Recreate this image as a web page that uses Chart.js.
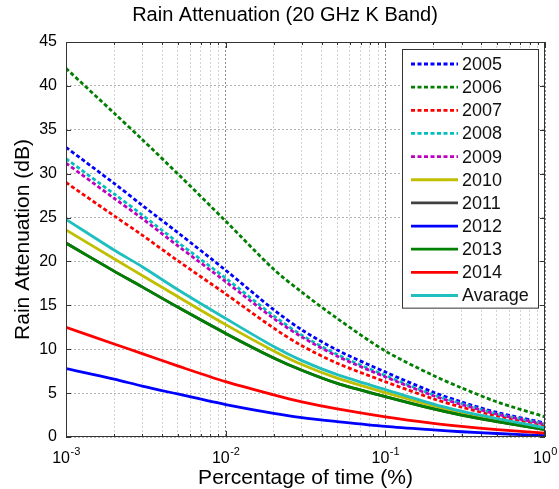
<!DOCTYPE html>
<html>
<head>
<meta charset="utf-8">
<title>Rain Attenuation (20 GHz K Band)</title>
<script src="https://cdn.jsdelivr.net/npm/chart.js@4.4.1/dist/chart.umd.min.js"></script>
<style>
  html, body { margin: 0; padding: 0; background: #fff; }
  #wrap { width: 559px; height: 489px; }
</style>
</head>
<body>
<div id="wrap"><canvas id="chart"></canvas></div>
<script>
// percentage of time (%) - x values shared by every curve
const percentTime = [0.001, 0.002, 0.003, 0.005, 0.01, 0.02, 0.03, 0.05, 0.1, 0.2, 0.3, 0.5, 1];

// rain attenuation (dB)
const att2005 = [33.0, 28.9, 26.4, 23.3, 19.0, 14.5, 12.2, 9.9, 7.4, 5.1, 4.0, 2.8, 1.6];
const att2006 = [42.0, 36.9, 33.9, 30.0, 24.6, 19.1, 16.5, 13.5, 9.8, 7.0, 5.6, 4.0, 2.3];
const att2007 = [29.0, 25.2, 23.0, 20.1, 16.3, 12.4, 10.4, 8.4, 6.3, 4.35, 3.4, 2.4, 1.35];
const att2008 = [31.7, 27.7, 25.3, 22.2, 18.1, 13.8, 11.6, 9.4, 7.0, 4.8, 3.8, 2.65, 1.5];
const att2009 = [31.2, 27.2, 24.9, 21.8, 17.7, 13.5, 11.4, 9.2, 6.85, 4.7, 3.7, 2.6, 1.45];
const att2010 = [23.6, 20.3, 18.4, 16.0, 12.8, 9.8, 8.25, 6.7, 5.05, 3.55, 2.8, 1.95, 0.95];
const att2011 = [22.1, 18.9, 17.1, 14.8, 11.8, 9.0, 7.6, 6.1, 4.6, 3.2, 2.5, 1.75, 0.85]; // hidden under 2013
const att2012 = [7.8, 6.6, 5.8, 4.9, 3.7, 2.7, 2.2, 1.75, 1.2, 0.8, 0.6, 0.4, 0.15];
const att2013 = [22.1, 18.9, 17.1, 14.8, 11.8, 9.0, 7.6, 6.1, 4.6, 3.2, 2.5, 1.75, 0.85];
const att2014 = [12.5, 10.6, 9.5, 8.1, 6.3, 4.8, 4.0, 3.2, 2.3, 1.55, 1.2, 0.85, 0.45];
const attAverage = [24.8, 21.3, 19.4, 16.8, 13.5, 10.3, 8.7, 7.1, 5.4, 3.75, 2.95, 2.1, 1.05];

const seriesNames = ["2005", "2006", "2007", "2008", "2009", "2010", "2011", "2012", "2013", "2014", "Avarage"];
const seriesValues = [att2005, att2006, att2007, att2008, att2009, att2010, att2011, att2012, att2013, att2014, attAverage];
const seriesColors = ["#0000ff", "#007f00", "#ff0000", "#00bfbf", "#bf00bf", "#bfbf00", "#404040", "#0000ff", "#008000", "#ff0000", "#1fbfbf"];
const seriesDashed = [true, true, true, true, true, false, false, false, false, false, false];

const xDecades = [0.001, 0.01, 0.1, 1];
const xDecadeExp = ["-3", "-2", "-1", "0"];
const yMax = 45;
const yStep = 5;

const FONT = "'Liberation Sans', Arial, Helvetica, sans-serif";
const DASH = [4, 2.5];

const isDecade = v => Math.abs(Math.log10(v) - Math.round(Math.log10(v))) < 1e-9;

const datasets = seriesNames.map((name, i) => ({
    label: name,
    data: percentTime.map((p, k) => ({ x: p, y: seriesValues[i][k] })),
    borderColor: seriesColors[i],
    backgroundColor: seriesColors[i],
    borderWidth: 2.8,
    borderDash: seriesDashed[i] ? DASH : [],
    pointRadius: 0,
    tension: 0.3,
    fill: false,
    order: seriesNames.length - i // later series drawn on top, like matlab
}));

// frame, inward ticks, decade labels, titles and legend
const matlabDecor = {
    id: "matlabDecor",
    afterDraw(chart) {
        const ctx = chart.ctx;
        const a = chart.chartArea;
        const xs = chart.scales.x;
        const ys = chart.scales.y;
        ctx.save();

        // axes box
        ctx.strokeStyle = "#333";
        ctx.lineWidth = 1;
        ctx.setLineDash([]);
        ctx.strokeRect(a.left + 0.5, a.top + 0.5, a.right - a.left - 1, a.bottom - a.top - 1);

        // inward tick marks
        ctx.beginPath();
        ys.ticks.forEach(t => {
            const py = Math.round(ys.getPixelForValue(t.value)) + 0.5;
            ctx.moveTo(a.left, py); ctx.lineTo(a.left + 5, py);
            ctx.moveTo(a.right, py); ctx.lineTo(a.right - 5, py);
        });
        xs.ticks.forEach(t => {
            const px = Math.round(xs.getPixelForValue(t.value)) + 0.5;
            const len = isDecade(t.value) ? 6 : 3;
            ctx.moveTo(px, a.bottom); ctx.lineTo(px, a.bottom - len);
            ctx.moveTo(px, a.top); ctx.lineTo(px, a.top + len);
        });
        ctx.stroke();

        // x tick labels 10^n
        ctx.fillStyle = "#000";
        ctx.textBaseline = "alphabetic";
        ctx.textAlign = "left";
        xDecades.forEach((d, i) => {
            const px = xs.getPixelForValue(d);
            ctx.font = "16px " + FONT;
            const wb = ctx.measureText("10").width;
            ctx.font = "11px " + FONT;
            const we = ctx.measureText(xDecadeExp[i]).width;
            const x0 = px - (wb + we) / 2;
            ctx.font = "16px " + FONT;
            ctx.fillText("10", x0, a.bottom + 26);
            ctx.font = "11px " + FONT;
            ctx.fillText(xDecadeExp[i], x0 + wb + 0.5, a.bottom + 18);
        });

        // titles
        ctx.textAlign = "center";
        ctx.textBaseline = "middle";
        ctx.font = "20px " + FONT;
        ctx.fillText("Rain Attenuation (20 GHz K Band)", 285, 15);
        ctx.font = "21px " + FONT;
        ctx.fillText("Percentage of time (%)", (a.left + a.right) / 2, 478);
        ctx.save();
        ctx.translate(23, (a.top + a.bottom) / 2);
        ctx.rotate(-Math.PI / 2);
        ctx.fillText("Rain Attenuation (dB)", 0, 0);
        ctx.restore();

        // legend box in the upper right corner
        const boxRight = a.right - 7;
        const boxLeft = boxRight - 136;
        const boxTop = a.top + 7;
        const rowH = 23.15;
        const boxH = rowH * chart.data.datasets.length + 4;
        ctx.fillStyle = "#fff";
        ctx.fillRect(boxLeft, boxTop, boxRight - boxLeft, boxH);
        ctx.strokeStyle = "#333";
        ctx.lineWidth = 1;
        ctx.strokeRect(boxLeft + 0.5, boxTop + 0.5, boxRight - boxLeft, boxH);
        ctx.font = "18px " + FONT;
        ctx.textAlign = "left";
        ctx.textBaseline = "middle";
        chart.data.datasets.forEach((ds, i) => {
            const cy = boxTop + 15 + i * rowH;
            ctx.strokeStyle = ds.borderColor;
            ctx.lineWidth = ds.borderWidth;
            ctx.setLineDash(ds.borderDash);
            ctx.beginPath();
            ctx.moveTo(boxLeft + 9, cy);
            ctx.lineTo(boxLeft + 56, cy);
            ctx.stroke();
            ctx.setLineDash([]);
            ctx.fillStyle = "#111";
            ctx.fillText(ds.label, boxLeft + 60, cy + 1);
        });

        ctx.restore();
    }
};

new Chart(document.getElementById("chart"), {
    type: "line",
    data: { datasets },
    options: {
        responsive: true,
        maintainAspectRatio: false,
        animation: false,
        events: [],
        layout: { padding: { top: 42, right: 14, left: 0, bottom: 0 } },
        plugins: {
            legend: { display: false },
            title: { display: false },
            tooltip: { enabled: false }
        },
        scales: {
            x: {
                type: "logarithmic",
                min: xDecades[0],
                max: xDecades[xDecades.length - 1],
                afterBuildTicks: scale => {
                    const ticks = [];
                    xDecades.forEach((d, i) => {
                        if (i === xDecades.length - 1) { ticks.push({ value: d }); return; }
                        for (let m = 1; m <= 9; m++) ticks.push({ value: d * m });
                    });
                    scale.ticks = ticks;
                },
                afterFit: scale => { scale.height = 52; },
                ticks: { display: false },
                border: { display: false, dash: [2, 2] },
                grid: {
                    drawTicks: false,
                    lineWidth: 1,
                    color: c => (c.tick && isDecade(c.tick.value)) ? "#8a8a8a" : "#d2d2d2"
                }
            },
            y: {
                min: 0,
                max: yMax,
                afterFit: scale => { scale.width = 66; },
                ticks: {
                    stepSize: yStep,
                    padding: 9,
                    color: "#000",
                    font: { family: FONT, size: 16 }
                },
                border: { display: false, dash: [2, 2] },
                grid: { drawTicks: false, lineWidth: 1, color: "#b4b4b4" }
            }
        }
    },
    plugins: [matlabDecor]
});
</script>
</body>
</html>
